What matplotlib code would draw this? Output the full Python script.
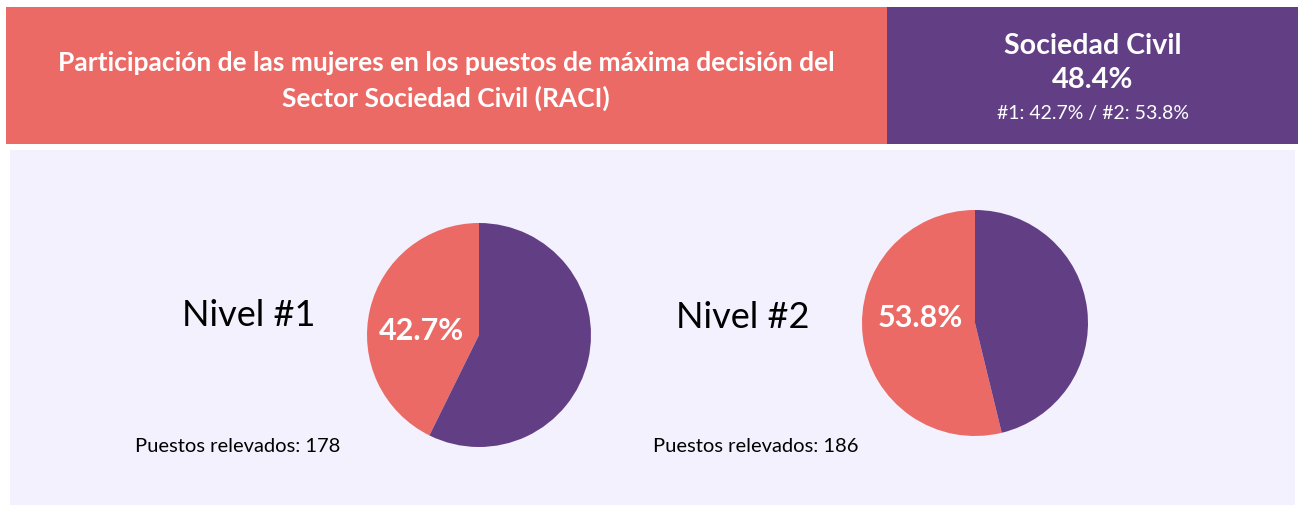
import matplotlib.pyplot as plt
from matplotlib.patches import Rectangle

plt.rcParams['font.family'] = ['Lato', 'DejaVu Sans']

# Data
# -------------------------------------------------------------
title_lines = ['Participación de las mujeres en los puestos de máxima decisión del',
               'Sector Sociedad Civil (RACI)']
sector_name = 'Sociedad Civil'
sector_total = 48.4
niveles = ['Nivel #1', 'Nivel #2']
pct_mujeres = [42.7, 53.8]
puestos = [178, 186]
# -------------------------------------------------------------

RED = '#EC6A65'
PURPLE = '#623F85'
PANEL = '#F3F1FD'

W, H = 1298, 505
fig = plt.figure(figsize=(W / 100, H / 100), dpi=100)
fig.patch.set_facecolor('white')


def px(x, y):
    # pixel coords (top-left origin) -> figure fraction
    return x / W, 1 - y / H


# background boxes
bg = fig.add_axes([0, 0, 1, 1])
bg.set_xlim(0, W)
bg.set_ylim(H, 0)
bg.axis('off')
bg.add_patch(Rectangle((6, 7), 881, 137, color=RED, lw=0))
bg.add_patch(Rectangle((887, 7), 411, 137, color=PURPLE, lw=0))
bg.add_patch(Rectangle((10, 150), 1285, 355, color=PANEL, lw=0))

# header texts
bg.text(446, 63, title_lines[0], color='white', fontsize=19, fontweight='bold',
        ha='center', va='center')
bg.text(446, 98, title_lines[1], color='white', fontsize=19, fontweight='bold',
        ha='center', va='center')
bg.text(1093, 46, sector_name, color='white', fontsize=20.5, fontweight='bold',
        ha='center', va='center')
bg.text(1093, 80, f'{sector_total}%', color='white', fontsize=21, fontweight='bold',
        ha='center', va='center')
bg.text(1093, 114, f'#1: {pct_mujeres[0]}% / #2: {pct_mujeres[1]}%', color='white',
        fontsize=14, ha='center', va='center')

# pies
centers = [(479, 335), (975, 323)]
radius = [112, 113]
label_pos = [(249, 315), (743, 318)]
count_pos = [(135, 447), (653, 447)]
pct_pos = [(421, 331), (920, 318)]

for i in range(2):
    cx, cy = centers[i]
    r = radius[i]
    x0, y1 = px(cx - r, cy + r)
    ax = fig.add_axes([x0, y1, 2 * r / W, 2 * r / H])
    ax.pie([pct_mujeres[i], 100 - pct_mujeres[i]], colors=[RED, PURPLE],
           startangle=90, counterclock=True,
           wedgeprops=dict(linewidth=0))
    ax.set_xlim(-1, 1)
    ax.set_ylim(-1, 1)
    ax.set_aspect('auto')
    ax.axis('off')

    bg.text(label_pos[i][0], label_pos[i][1], niveles[i], color='black',
            fontsize=26, ha='center', va='center')
    bg.text(count_pos[i][0], count_pos[i][1], f'Puestos relevados: {puestos[i]}',
            color='black', fontsize=14.5, ha='left', va='center')

# overlay for labels on top of pies
top = fig.add_axes([0, 0, 1, 1])
top.set_xlim(0, W)
top.set_ylim(H, 0)
top.axis('off')
top.patch.set_alpha(0)
for i in range(2):
    top.text(pct_pos[i][0], pct_pos[i][1], f'{pct_mujeres[i]}%', color='white',
             fontsize=22, fontweight='bold', ha='center', va='center')

plt.savefig('out.png', dpi=100)
